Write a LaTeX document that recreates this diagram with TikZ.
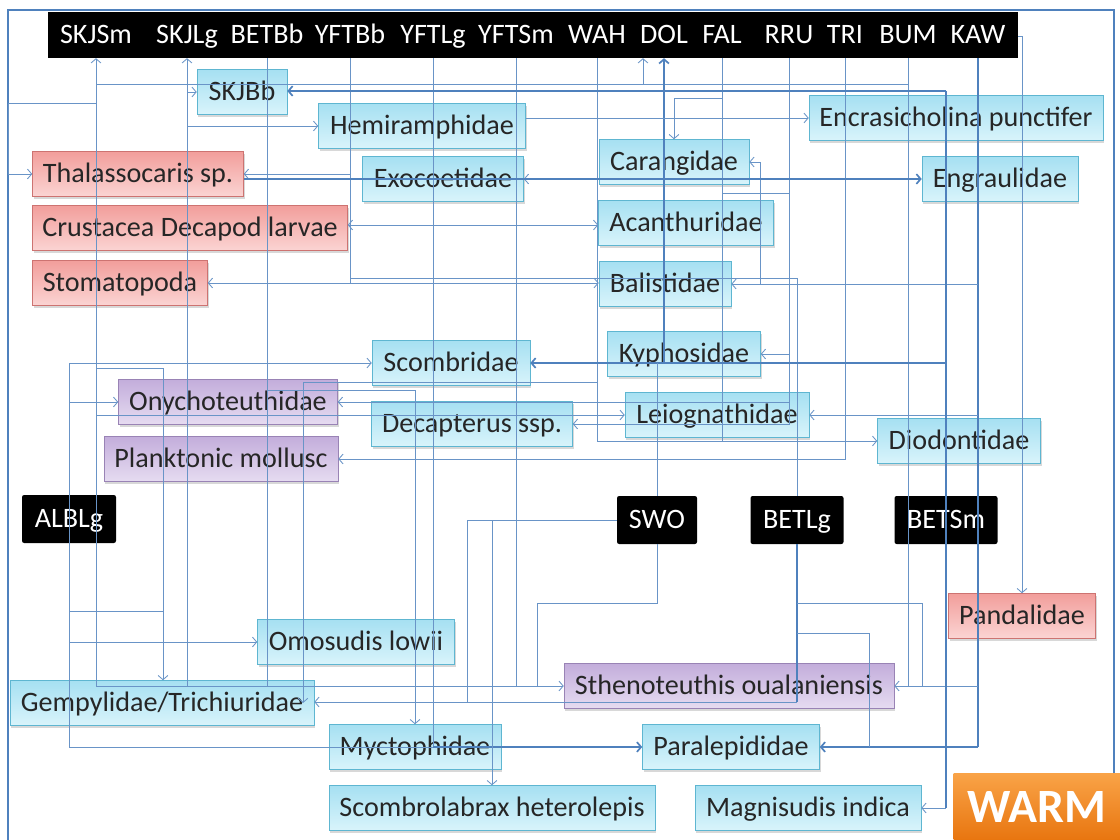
\documentclass[tikz,border=0pt]{standalone}
\usepackage{fontspec}
\setmainfont{Carlito}
\usepackage{tikz}
\usetikzlibrary{arrows.meta,shadows}

\definecolor{linecol}{HTML}{4F81BD}
\definecolor{fishtop}{HTML}{A6E0F2}
\definecolor{fishbot}{HTML}{D9F4FB}
\definecolor{fishline}{HTML}{5EB6D1}
\definecolor{crusttop}{HTML}{F29E9B}
\definecolor{crustbot}{HTML}{FBD4D3}
\definecolor{crustline}{HTML}{C0504D}
\definecolor{squidtop}{HTML}{C3ADDB}
\definecolor{squidbot}{HTML}{E6DCF1}
\definecolor{squidline}{HTML}{8064A2}
\definecolor{warmtop}{HTML}{F9A347}
\definecolor{warmbot}{HTML}{E8750F}
\newcommand{\pxu}{0.025cm}

\begin{document}
\begin{tikzpicture}[x=0.025cm, y=-0.025cm,
    font=\fontsize{20}{23}\selectfont,
    sbox/.style={rectangle, inner sep=0pt, text height=16pt, text depth=4pt,
      minimum height=45*\pxu, text=black!85,
      drop shadow={shadow xshift=1pt, shadow yshift=-1.5pt, opacity=0.3}},
    fish/.style={sbox, draw=fishline, top color=fishtop, bottom color=fishbot},
    crust/.style={sbox, draw=crustline!80, top color=crusttop, bottom color=crustbot},
    squid/.style={sbox, draw=squidline!80, top color=squidtop, bottom color=squidbot},
    pred/.style={rectangle, fill=black, text=white, inner sep=0pt, text height=16pt, text depth=4pt,
      minimum height=48*\pxu, rounded corners=1.5pt},
    barlab/.style={text=white, inner xsep=0pt, inner ysep=6.3pt, text height=16pt, text depth=4pt},
    warm/.style={rectangle, top color=warmtop, bottom color=warmbot, text=white,
      font=\fontsize{34}{36}\selectfont\bfseries, minimum width=167*\pxu, minimum height=67*\pxu},
    link/.style={draw=linecol!85, line width=0.6pt},
    heavy/.style={draw=linecol, line width=1.2pt},
    arr/.style={-{Straight Barb[length=3pt,width=7pt]}},
    arrl/.style={{Straight Barb[length=3pt,width=7pt]}-},
    arrb/.style={{Straight Barb[length=3pt,width=7pt]}-{Straight Barb[length=3pt,width=7pt]}}]

  \useasboundingbox (0,0) rectangle (1120,840);
  \fill[white] (0,0) rectangle (1120,840);
  \draw[linecol, line width=1.8pt] (8,840) -- (8,10) -- (1114,10) -- (1114,840);

  % routing rows and columns
  \foreach \y in {84,91,98,103,118,179,193,225,278,368,382,390,402,415,603,611,633,702}
    \coordinate (r\y) at (0,\y);
  \foreach \x in {8,163,303,467,492,537,643,760,869,922}
    \coordinate (c\x) at (\x,0);
  \coordinate (barend) at (1018,36);

  % predators along the top
  \fill[black] (48,12) rectangle (1018,58);
  \foreach \n/\x/\t in {skjsm/96/SKJSm, skjlg/187/SKJLg, betbb/267/BETBb, yftbb/350/YFTBb,
      yftlg/433/YFTLg, yftsm/516/YFTSm, wah/597/WAH, dol/664/DOL, fal/722/FAL,
      rru/789/RRU, tri/845/TRI, bum/908/BUM, kaw/978/KAW}
    \node[barlab] (\n) at (\x,35) {\t};

  % prey groups
  \node[fish, minimum width=90*\pxu] (skjbb) at (242,92) {SKJBb};
  \node[fish, minimum width=207*\pxu] (hemi) at (422,126) {Hemiramphidae};
  \node[crust, minimum width=211*\pxu] (thal) at (138,174) {Thalassocaris sp.};
  \node[fish, minimum width=161*\pxu] (exo) at (443,179) {Exocoetidae};
  \node[crust, minimum width=315*\pxu] (crus) at (190,228) {Crustacea Decapod larvae};
  \node[crust, minimum width=175*\pxu] (stom) at (120,283) {Stomatopoda};
  \node[fish, minimum width=294*\pxu] (encr) at (956,118) {Encrasicholina punctifer};
  \node[fish, minimum width=150*\pxu] (cara) at (674,162) {Carangidae};
  \node[fish, minimum width=156*\pxu] (engr) at (1000,179) {Engraulidae};
  \node[fish, minimum width=175*\pxu] (acan) at (686,223) {Acanthuridae};
  \node[fish, minimum width=132*\pxu] (bali) at (665,284) {Balistidae};
  \node[fish, minimum width=153*\pxu] (kyph) at (684,354) {Kyphosidae};
  \node[fish, minimum width=158*\pxu] (scom) at (451,363) {Scombridae};
  \node[squid, minimum width=219*\pxu] (onyc) at (228,402) {Onychoteuthidae};
  \node[fish, minimum width=201*\pxu] (deca) at (472,424) {Decapterus ssp.};
  \node[fish, minimum width=184*\pxu] (leio) at (717,415) {Leiognathidae};
  \node[fish, minimum width=163*\pxu] (diod) at (959,441) {Diodontidae};
  \node[squid, minimum width=234*\pxu] (plank) at (221,459) {Planktonic mollusc};
  \node[pred, minimum width=94*\pxu] (albl) at (69,519) {ALBLg};
  \node[pred, minimum width=80*\pxu] (swo) at (657,520) {SWO};
  \node[pred, minimum width=93*\pxu] (betlg) at (797,520) {BETLg};
  \node[pred, minimum width=103*\pxu] (betsm) at (946,520) {BETSm};
  \node[crust, minimum width=147*\pxu] (pand) at (1022,616) {Pandalidae};
  \node[fish, minimum width=197*\pxu] (omos) at (356,642) {Omosudis lowii};
  \node[fish, minimum width=304*\pxu] (gemp) at (162,703) {Gempylidae/Trichiuridae};
  \node[squid, minimum width=330*\pxu] (sthe) at (729,686) {Sthenoteuthis oualaniensis};
  \node[fish, minimum width=172*\pxu] (myct) at (415,747) {Myctophidae};
  \node[fish, minimum width=177*\pxu] (para) at (731,747) {Paralepididae};
  \node[fish, minimum width=326*\pxu] (scbx) at (492,808) {Scombrolabrax heterolepis};
  \node[fish, minimum width=226*\pxu] (magn) at (808,808) {Magnisudis indica};
  \node[warm] (warmbox) at (1037,807) {WARM};

  % SKJSm
  \draw[link,arrb] (skjsm.south) |- (sthe.west);
  \draw[link] (skjsm |- r84) -- (bum |- r84);
  \draw[link,arr] (c643 |- r84) -- (c643 |- dol.south);
  \draw[link,arr] (skjsm |- r103) -- (c8 |- r103) |- (thal.west);
  \draw[link,arr] (skjsm |- r368) -| (c163 |- gemp.north);
  \draw[link,arr] (skjsm |- r415) -- (r415 -| leio.west);
  % SKJLg
  \draw[link,arrl] (skjlg.south) -- (skjlg |- sthe.west);
  \draw[link,arr] (skjlg |- skjbb) -- (skjbb.west);
  \draw[link,arr] (skjlg |- hemi) -- (hemi.west);
  % BETBb
  \draw[link] (betbb.south) -- (betbb |- sthe.west);
  \draw[link,arr] (betbb |- r390) -| (myct.north);
  % YFTBb
  \draw[link] (yftbb.south) -- (yftbb |- stom);
  \draw[link,arr] (yftbb |- thal) -- (thal.east);
  \draw[link,arrb] (stom.east) -- (stom.east -| bali.west);
  \draw[link] (yftbb |- r278) -| (betlg.north);
  % YFTLg, YFTSm
  \draw[link] (yftlg.south) -- (yftlg |- para);
  \draw[heavy,arr] (yftlg |- para) -- (para.west);
  \draw[link] (yftsm.south) -- (yftsm |- sthe.west);
  % WAH, DOL
  \draw[link,arr] (wah.south) |- (diod.west);
  \draw[link,arr] (wah |- r382) -| (c303 |- gemp);
  \draw[heavy,arrl] (dol.south) -- (dol |- scom);
  % FAL
  \draw[link] (fal.south) -- (fal |- diod);
  \draw[link,arr] (fal |- r98) -| (cara.north);
  \draw[link] (fal |- r193) -- (rru |- r193);
  \draw[link,arr] (fal |- exo) -- (exo.east);
  % RRU, TRI, BUM
  \draw[link,arr] (rru.south) |- (deca.east);
  \draw[link,arr] (rru |- kyph) -- (kyph.east);
  \draw[link,arr] (rru |- r402) -- (r402 -| onyc.east);
  \draw[link,arr] (tri.south) |- (plank.east);
  \draw[link] (bum.south) -- (bum |- sthe);
  % KAW
  \draw[heavy] (kaw.south) -- (kaw |- para);
  \draw[heavy,arr] (kaw |- para) -- (para.east);
  \draw[link,arr] (kaw |- sthe) -- (sthe.east);
  \draw[link,arr] (kaw |- leio) -- (leio.east);
  \draw[link,arr] (kaw |- bali) -- (bali.east);
  \draw[link,arr] (c760 |- bali) |- (cara.east);
  \draw[link,arr] (barend) -| (pand.north);
  % BETSm
  \draw[heavy] (betsm |- r91) -- (betsm |- magn);
  \draw[heavy,arr] (betsm |- r91) -- (r91 -| skjbb.east);
  \draw[heavy,arr] (betsm |- scom) -- (scom.east);
  \draw[link,arr] (betsm |- magn) -- (magn.east);
  % BETLg
  \draw[heavy] (betlg.south) -- (betlg |- r702);
  \draw[link,arr] (betlg |- r702) -- (r702 -| gemp.east);
  \draw[link] (betlg |- r603) -| (c922 |- sthe);
  \draw[link] (betlg |- r633) -| (c869 |- para);
  % SWO
  \draw[link] (swo.north) -- (swo |- scom);
  \draw[link] (swo.west) -| (c467 |- r702);
  \draw[link,arr] (c492 |- swo) -- (scbx.north);
  \draw[link] (swo.south) |- (c537 |- r603) -- (c537 |- sthe);
  % ALBLg
  \draw[link] (albl |- scom) -- (albl |- para) -- (yftlg |- para);
  \draw[link,arr] (albl |- scom) -- (scom.west);
  \draw[link,arr] (albl |- onyc) -- (onyc.west);
  \draw[link] (albl |- r611) -- (c163 |- r611);
  \draw[link,arr] (albl |- omos) -- (omos.west);
  % prey to prey
  \draw[heavy,arr] (r179 -| thal.east) -- (engr.west);
  \draw[link,arr] (r118 -| hemi.east) -- (r118 -| encr.west);
  \draw[link,arrb] (r225 -| crus.east) -- (r225 -| acan.west);
\end{tikzpicture}
\end{document}
